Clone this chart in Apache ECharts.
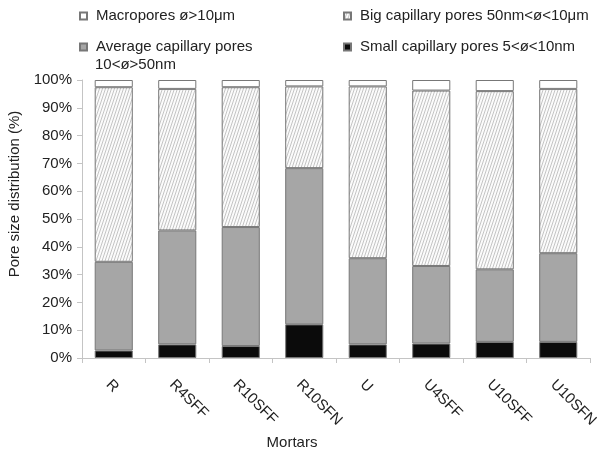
<!DOCTYPE html>
<html>
<head>
<meta charset="utf-8">
<script src="https://cdn.jsdelivr.net/npm/echarts@6/dist/echarts.min.js"></script>
<style>html,body{margin:0;padding:0;background:#fff;}#c{width:603px;height:450px;}</style>
</head>
<body>
<div id="c"></div>
<script>
const categories = ['R', 'R4SFF', 'R10SFF', 'R10SFN', 'U', 'U4SFF', 'U10SFF', 'U10SFN'];
const smallPores = [2.7, 4.9, 4.3, 12.1, 4.9, 5.2, 5.8, 5.8];
const averagePores = [31.9, 41.0, 42.8, 56.2, 31.0, 27.9, 26.1, 31.9];
const bigPores = [62.8, 50.9, 50.3, 29.4, 61.8, 63.1, 64.1, 59.1];
const macroPores = [2.6, 3.2, 2.6, 2.3, 2.3, 3.8, 4.0, 3.2];
const yTicks = [0, 10, 20, 30, 40, 50, 60, 70, 80, 90, 100];

const names = {
  macro: 'Macropores ø>10μm',
  big: 'Big capillary pores 50nm<ø<10μm',
  average: 'Average capillary pores 10<ø>50nm',
  small: 'Small capillary pores 5<ø<10nm'
};

const FONT = '"Liberation Sans", Arial, sans-serif';

// hatch pattern (steep, light diagonal stripes)
const pc = document.createElement('canvas');
pc.width = 3; pc.height = 9;
const px = pc.getContext('2d');
px.fillStyle = '#fbfbfb';
px.fillRect(0, 0, 3, 9);
px.strokeStyle = '#bdbdbd';
px.lineWidth = 0.9;
px.beginPath();
px.moveTo(-1, 12); px.lineTo(4, -3);
px.moveTo(-4, 12); px.lineTo(1, -3);
px.moveTo(2, 12); px.lineTo(7, -3);
px.stroke();
const hatch = { image: pc, repeat: 'repeat' };

const chart = echarts.init(document.getElementById('c'), null, { renderer: 'canvas' });

function legendAt(name, left, top, fmt) {
  return {
    data: [name], left: left, top: top, padding: 0, orient: 'vertical',
    itemWidth: 7, itemHeight: 7, itemGap: 0, icon: 'rect',
    selectedMode: false,
    formatter: fmt || '{name}',
    textStyle: { fontFamily: FONT, fontSize: 15, color: '#222', lineHeight: 18, padding: [0, 0, 0, 4] }
  };
}

const borderStyle = { borderColor: '#777777', borderWidth: 1 };

chart.setOption({
  animation: false,
  backgroundColor: '#ffffff',
  textStyle: { fontFamily: FONT },
  legend: [
    legendAt(names.macro, 79, 7),
    legendAt(names.average, 79, 38, function () { return 'Average capillary pores'; }),
    legendAt(names.big, 343, 7),
    legendAt(names.small, 343, 38)
  ],
  graphic: [
    { type: 'text', left: 95, top: 57, style: { text: '10<ø>50nm', font: '15px ' + FONT, fill: '#222' } }
  ],
  grid: { left: 82, right: 13, top: 80, bottom: 92, containLabel: false, outerBoundsMode: 'none' },
  xAxis: {
    type: 'category',
    data: categories,
    name: 'Mortars',
    nameLocation: 'middle',
    nameGap: 72,
    nameTextStyle: { fontFamily: FONT, fontSize: 15, color: '#222', padding: [0, 88, 0, 0] },
    axisLine: { lineStyle: { color: '#c4c4c4', width: 1 } },
    axisTick: { show: true, length: 5, lineStyle: { color: '#c4c4c4' } },
    axisLabel: {
      rotate: -45, margin: 19, fontFamily: FONT, fontSize: 15, color: '#222',
      verticalAlign: 'top', interval: 0
    }
  },
  yAxis: {
    type: 'value',
    min: 0, max: 100, interval: 10,
    name: 'Pore size distribution (%)',
    nameLocation: 'middle',
    nameGap: 57,
    nameRotate: 90,
    nameTextStyle: { fontFamily: FONT, fontSize: 15, color: '#222', padding: [0, 0, 0, 50] },
    axisLine: { show: true, lineStyle: { color: '#c4c4c4', width: 1 } },
    axisTick: { show: true, length: 5, lineStyle: { color: '#c4c4c4' } },
    splitLine: { show: false },
    axisLabel: {
      margin: 10, fontFamily: FONT, fontSize: 15, color: '#222',
      formatter: function (v) { return yTicks.indexOf(v) >= 0 ? v + '%' : ''; }
    }
  },
  series: [
    { name: names.small, type: 'bar', stack: 'p', barWidth: '60%', data: smallPores,
      itemStyle: Object.assign({ color: '#0b0b0b' }, borderStyle) },
    { name: names.average, type: 'bar', stack: 'p', barWidth: '60%', data: averagePores,
      itemStyle: Object.assign({ color: '#a6a6a6' }, borderStyle) },
    { name: names.big, type: 'bar', stack: 'p', barWidth: '60%', data: bigPores,
      itemStyle: Object.assign({ color: hatch }, borderStyle) },
    { name: names.macro, type: 'bar', stack: 'p', barWidth: '60%', data: macroPores,
      itemStyle: Object.assign({ color: '#ffffff' }, borderStyle) }
  ]
});
</script>
</body>
</html>
